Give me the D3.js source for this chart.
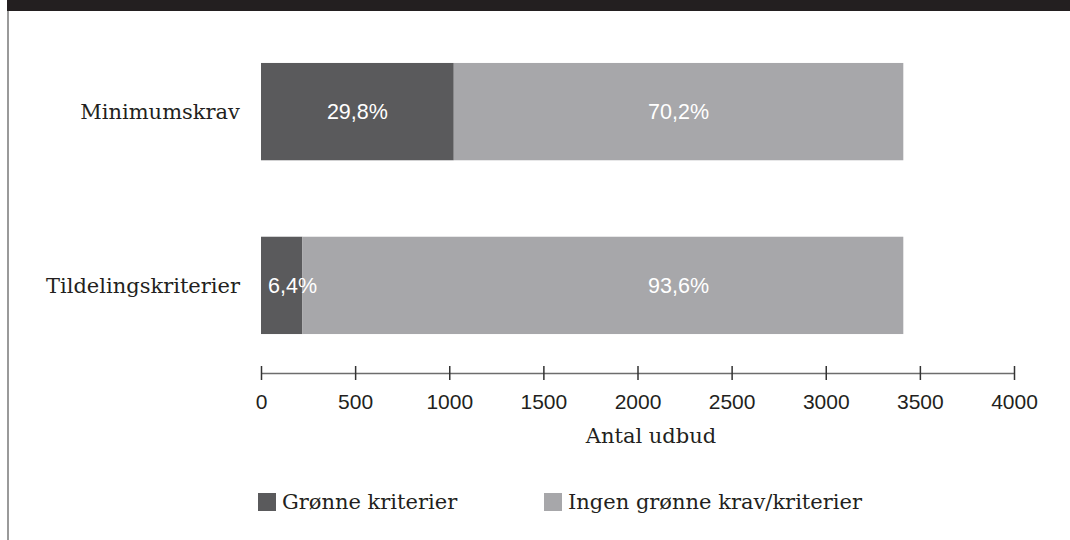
<!DOCTYPE html>
<html>
<head>
<meta charset="utf-8">
<script src="https://cdn.jsdelivr.net/npm/d3@7"></script>
<style>
  body { margin: 0; background: #fff; }
  svg { display: block; }
</style>
</head>
<body>
<svg width="1070" height="540"></svg>
<script>
const categories = ["Minimumskrav", "Tildelingskriterier"];
const seriesNames = ["Grønne kriterier", "Ingen grønne krav/kriterier"];
const greenValues = [1024, 220];
const noneValues = [2388, 3192];
const greenLabels = ["29,8%", "6,4%"];
const noneLabels = ["70,2%", "93,6%"];
const xTicks = [0, 500, 1000, 1500, 2000, 2500, 3000, 3500, 4000];
const xTitle = "Antal udbud";

const colors = ["#5a5a5c", "#a7a7aa"];
const serif = "'DejaVu Serif', serif";
const sans = "'Liberation Sans', Arial, sans-serif";

let svg = d3.select("svg"),
    width = +svg.attr("width"),
    height = +svg.attr("height");

// frame: black band on top, grey rule on the left
svg.append("rect").attr("x", 7).attr("y", 0).attr("width", width - 7).attr("height", 11).attr("fill", "#231f20");
svg.append("rect").attr("x", 7).attr("y", 11).attr("width", 2).attr("height", height - 11).attr("fill", "#9a9a9a");

const x = d3.scaleLinear().domain([0, 4000]).range([261, 1014]);
const y = d3.scaleBand().domain(categories).range([23, 374]).paddingInner(0.44).paddingOuter(0.23);

const rows = categories.map((c, i) => ({
  cat: c,
  parts: [
    { x0: 0, x1: greenValues[i], label: greenLabels[i], s: 0 },
    { x0: greenValues[i], x1: greenValues[i] + noneValues[i], label: noneLabels[i], s: 1 }
  ]
}));

// light labels sit in the middle of the free area after the widest green part
const maxGreen = d3.max(greenValues);
const maxTotal = d3.max(categories.map((c, i) => greenValues[i] + noneValues[i]));

const g = svg.selectAll("g.row").data(rows).enter().append("g").attr("class", "row");

g.selectAll("rect").data(d => d.parts.map(p => Object.assign({ cat: d.cat }, p)))
  .enter().append("rect")
    .attr("x", d => x(d.x0))
    .attr("y", d => y(d.cat))
    .attr("width", d => x(d.x1) - x(d.x0))
    .attr("height", y.bandwidth())
    .attr("fill", d => colors[d.s]);

g.selectAll("text.val").data(d => d.parts.map(p => Object.assign({ cat: d.cat }, p)))
  .enter().append("text")
    .attr("class", "val")
    .attr("y", d => y(d.cat) + y.bandwidth() / 2)
    .attr("dy", "0.35em")
    .attr("fill", "#fff")
    .style("font-family", sans)
    .style("font-size", "21.5px")
    .text(d => d.label)
    .each(function(d) {
      const t = d3.select(this);
      if (d.s === 1) {
        t.attr("x", x((maxGreen + maxTotal) / 2)).attr("text-anchor", "middle");
      } else {
        const w = this.getComputedTextLength();
        if (w > x(d.x1) - x(d.x0) - 8) t.attr("x", x(d.x0) + 7).attr("text-anchor", "start");
        else t.attr("x", (x(d.x0) + x(d.x1)) / 2).attr("text-anchor", "middle");
      }
    });

// category labels
svg.selectAll("text.cat").data(categories).enter().append("text")
  .attr("class", "cat")
  .attr("x", 240)
  .attr("y", d => y(d) + y.bandwidth() / 2)
  .attr("dy", "0.35em")
  .attr("text-anchor", "end")
  .attr("fill", "#231f20")
  .style("font-family", serif)
  .style("font-size", "21px")
  .text(d => d);

// x axis
const axis = svg.append("g")
  .attr("transform", "translate(0,373)")
  .call(d3.axisBottom(x).tickValues(xTicks).tickFormat(d3.format("d"))
    .tickSizeOuter(0).tickSizeInner(7).tickPadding(14));
axis.select(".domain").attr("stroke", "#6d6d6d").attr("stroke-width", 1.5);
axis.selectAll(".tick line").attr("y1", -7).attr("y2", 7).attr("stroke", "#333").attr("stroke-width", 1.5);
axis.selectAll(".tick text")
  .attr("fill", "#231f20")
  .style("font-family", sans)
  .style("font-size", "21px");

svg.append("text")
  .attr("x", 651)
  .attr("y", 443)
  .attr("text-anchor", "middle")
  .attr("fill", "#231f20")
  .style("font-family", serif)
  .style("font-size", "21px")
  .text(xTitle);

// legend
const legendX = [258, 544];
const lg = svg.selectAll("g.legend").data(seriesNames).enter().append("g")
  .attr("class", "legend")
  .attr("transform", (d, i) => `translate(${legendX[i]},493)`);
lg.append("rect").attr("width", 18).attr("height", 18).attr("fill", (d, i) => colors[i]);
lg.append("text")
  .attr("x", 24)
  .attr("y", 9)
  .attr("dy", "0.35em")
  .attr("fill", "#231f20")
  .style("font-family", serif)
  .style("font-size", "21px")
  .text(d => d);
</script>
</body>
</html>
